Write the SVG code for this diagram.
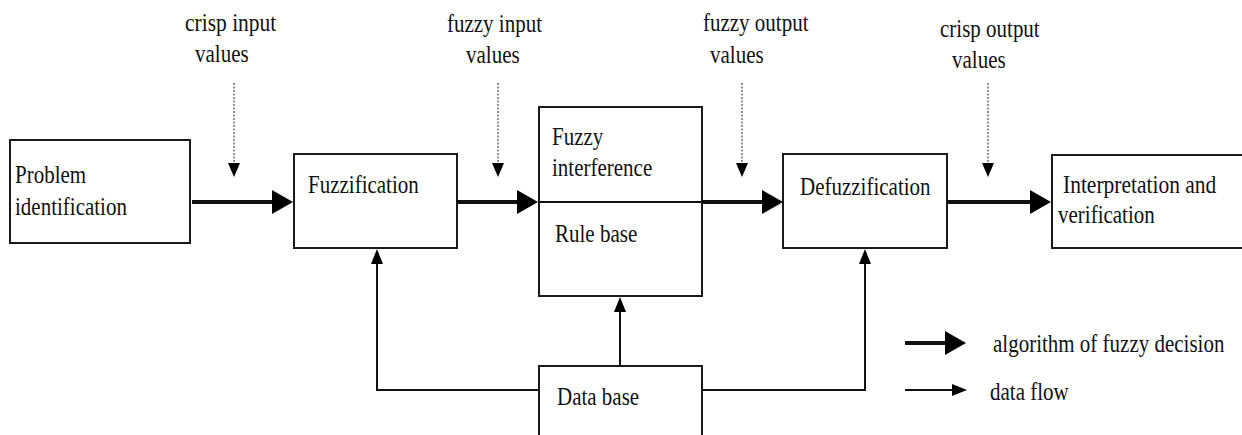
<svg xmlns="http://www.w3.org/2000/svg" width="1242" height="435" viewBox="0 0 1242 435">
<style>
.box{fill:#fff;stroke:#1a1a1a;stroke-width:2}
.t{font-family:'Liberation Serif','Times New Roman','DejaVu Serif',serif;font-size:25px;fill:#111}
.thick{stroke:#111;stroke-width:4;fill:none}
.thin{stroke:#111;stroke-width:2;fill:none}
.dot{stroke:#777;stroke-width:1.6;stroke-dasharray:2 1.5;fill:none}
</style>
<defs>
<marker id="hThick" viewBox="0 0 21 24" markerWidth="21" markerHeight="24" refX="0" refY="12" orient="auto" markerUnits="userSpaceOnUse"><path d="M0,0 L21,12 L0,24 z" fill="#000"/></marker>
<marker id="hThin" viewBox="0 0 15 12" markerWidth="15" markerHeight="12" refX="0" refY="6" orient="auto" markerUnits="userSpaceOnUse"><path d="M0,0 L15,6 L0,12 z" fill="#000"/></marker>
<marker id="hDot" viewBox="0 0 14 12" markerWidth="14" markerHeight="12" refX="0" refY="6" orient="auto" markerUnits="userSpaceOnUse"><path d="M0,0 L14,6 L0,12 z" fill="#000"/></marker>
</defs>
<rect width="1242" height="435" fill="#fff"/>

<g id="problem">
<rect class="box" x="10" y="140" width="180" height="103"/>
<text class="t" font-family="Liberation Serif, serif" transform="translate(15,183) scale(0.84,1)">Problem</text>
<text class="t" transform="translate(15,215) scale(0.84,1)">identification</text>
</g>
<g id="fuzzification">
<rect class="box" x="294" y="154" width="163" height="94"/>
<text class="t" transform="translate(308,193) scale(0.84,1)">Fuzzification</text>
</g>
<g id="inference">
<rect class="box" x="539" y="107" width="163" height="189"/>
<text class="t" transform="translate(552,145) scale(0.84,1)">Fuzzy</text>
<text class="t" transform="translate(552,176) scale(0.84,1)">interference</text>
<text class="t" transform="translate(555,242) scale(0.84,1)">Rule base</text>
</g>
<g id="defuzzification">
<rect class="box" x="783" y="154" width="164" height="94"/>
<text class="t" transform="translate(800,195) scale(0.84,1)">Defuzzification</text>
</g>
<g id="interpretation">
<rect class="box" x="1052" y="155" width="200" height="93"/>
<text class="t" transform="translate(1063,193) scale(0.86,1)">Interpretation and</text>
<text class="t" transform="translate(1058,223) scale(0.84,1)">verification</text>
</g>
<g id="database">
<rect class="box" x="539" y="366" width="163" height="80"/>
<text class="t" transform="translate(557,405) scale(0.84,1)">Data base</text>
</g>

<g id="labels">
<text class="t" transform="translate(185,31) scale(0.86,1)">crisp input</text>
<text class="t" transform="translate(195,62) scale(0.84,1)">values</text>
<text class="t" transform="translate(447,32) scale(0.84,1)">fuzzy input</text>
<text class="t" transform="translate(466,63) scale(0.84,1)">values</text>
<text class="t" transform="translate(703,31) scale(0.84,1)">fuzzy output</text>
<text class="t" transform="translate(710,63) scale(0.84,1)">values</text>
<text class="t" transform="translate(940,37) scale(0.84,1)">crisp output</text>
<text class="t" transform="translate(952,68) scale(0.84,1)">values</text>
</g>

<g id="connectors">
<line class="thick" x1="192" y1="202" x2="272" y2="202" marker-end="url(#hThick)"/>
<line class="thick" x1="457" y1="202" x2="517" y2="202" marker-end="url(#hThick)"/>
<line class="thin" x1="539" y1="202" x2="702" y2="202"/>
<line class="thick" x1="702" y1="202" x2="762" y2="202" marker-end="url(#hThick)"/>
<line class="thick" x1="947" y1="202" x2="1030" y2="202" marker-end="url(#hThick)"/>

<line class="dot" x1="234" y1="83" x2="234" y2="163" marker-end="url(#hDot)"/>
<line class="dot" x1="498" y1="83" x2="498" y2="163" marker-end="url(#hDot)"/>
<line class="dot" x1="742" y1="83" x2="742" y2="163" marker-end="url(#hDot)"/>
<line class="dot" x1="988" y1="83" x2="988" y2="163" marker-end="url(#hDot)"/>

<polyline class="thin" points="539,390 377,390 377,264" marker-end="url(#hThin)"/>
<polyline class="thin" points="702,390 865,390 865,264" marker-end="url(#hThin)"/>
<line class="thin" x1="620" y1="366" x2="620" y2="312" marker-end="url(#hThin)"/>
</g>

<g id="legend">
<line class="thick" x1="905" y1="343" x2="945" y2="343" marker-end="url(#hThick)"/>
<text class="t" transform="translate(993,352) scale(0.84,1)">algorithm of fuzzy decision</text>
<line class="thin" x1="905" y1="390" x2="952" y2="390" marker-end="url(#hThin)"/>
<text class="t" transform="translate(990,400) scale(0.84,1)">data flow</text>
</g>
</svg>
